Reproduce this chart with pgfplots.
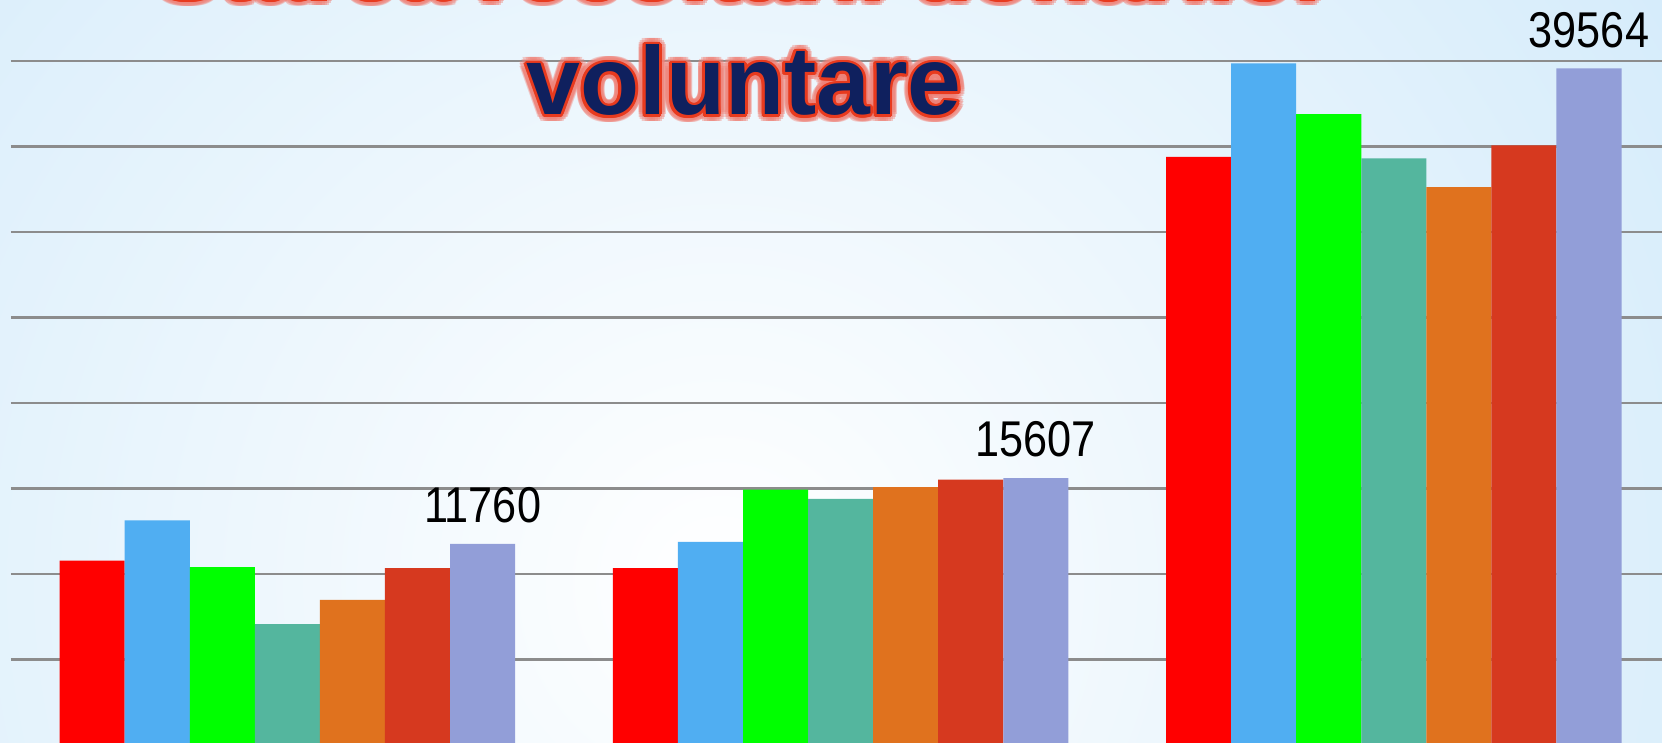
\documentclass[border=0pt]{standalone}
\usepackage{fontspec}
\usepackage{pgfplots}
\pgfplotsset{compat=1.18}
\setmainfont{Liberation Sans}
\newfontfamily\tfam{Liberation Sans}
\newfontfamily\lblf[FakeStretch=0.86]{Liberation Sans}
\definecolor{bgblue}{RGB}{190,225,248}
\definecolor{navy}{RGB}{15,32,94}
\definecolor{outl}{RGB}{232,58,30}
\definecolor{glow}{RGB}{240,130,120}
\definecolor{c1}{RGB}{255,0,0}
\definecolor{c2}{RGB}{80,174,242}
\definecolor{c3}{RGB}{0,255,0}
\definecolor{c4}{RGB}{84,182,158}
\definecolor{c5}{RGB}{224,114,30}
\definecolor{c6}{RGB}{214,57,31}
\definecolor{c7}{RGB}{146,158,216}
\definecolor{gridc}{RGB}{140,140,140}
\newcommand\titlef{\tfam\bfseries\fontsize{27.5pt}{30pt}\selectfont}
\newcommand\outl[2]{%
  \foreach \a in {0,20,...,340} {\node[anchor=base, text=glow, opacity=0.4, inner sep=0] at ([shift={(\a:0.07)}]#1) {\titlef #2};}
  \foreach \a in {0,30,...,330} {\node[anchor=base, text=outl, inner sep=0] at ([shift={(\a:0.028)}]#1) {\titlef #2};}
  \node[anchor=base, text=navy, inner sep=0] at (#1) {\titlef #2};
}
\begin{document}
\begin{tikzpicture}
\useasboundingbox (0,0) rectangle (16.62,7.43);
\clip (0,0) rectangle (16.62,7.43);
\fill[bgblue] (0,0) rectangle (16.62,7.43);
\shade[inner color=white, outer color=bgblue] (7.2,1.6) circle (17.5cm);
\begin{axis}[
  at={(0.108cm,-0.02cm)}, anchor=south west,
  scale only axis, width=16.596cm, height=6.84cm,
  xmin=-0.5, xmax=2.5, ymin=0, ymax=40000,
  ybar=0pt, bar width=0.6506cm,
  axis line style={draw=none},
  major tick length=0pt,
  xtick=\empty,
  ytick={5000,10000,...,40000},
  yticklabels={},
  scaled y ticks=false,
  ymajorgrids,
  grid style={gridc, line width=0.6pt},
  clip=false,
  every axis plot/.append style={draw=none},
]
\addplot[fill=c1] coordinates {(0,10782) (1,10337) (2,34398)};
\addplot[fill=c2] coordinates {(0,13139) (1,11876) (2,39856)};
\addplot[fill=c3] coordinates {(0,10407) (1,14935) (2,36895)};
\addplot[fill=c4] coordinates {(0,7061) (1,14391) (2,34300)};
\addplot[fill=c5] coordinates {(0,8483) (1,15075) (2,32625)};
\addplot[fill=c6] coordinates {(0,10337) (1,15520) (2,35060)};
\addplot[fill=c7, point meta=explicit symbolic, nodes near coords,
  every node near coord/.append style={anchor=south, inner sep=0pt, yshift=0.2cm, text=black, font=\lblf\fontsize{14.3pt}{16pt}\selectfont}]
  coordinates {(0,11760) [11760] (1,15607) [15607] (2,39564) [39564]};
\end{axis}
\outl{7.44,7.44}{Starea recoltării donărilor}
\outl{7.44,6.28}{voluntare}
\end{tikzpicture}
\end{document}
